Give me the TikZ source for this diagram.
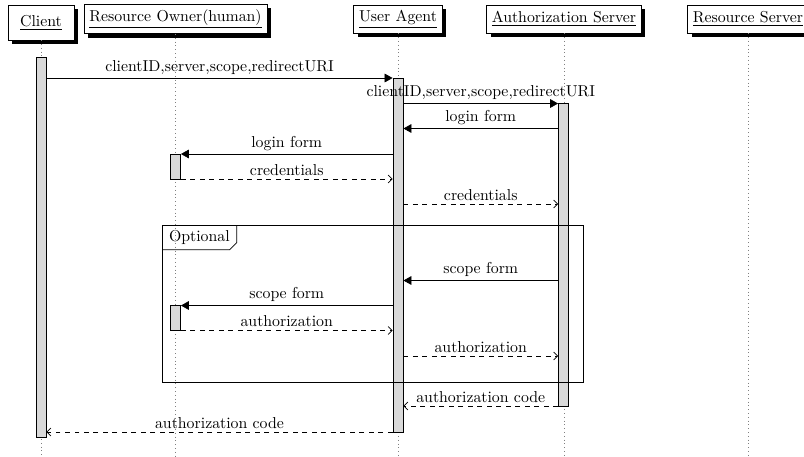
\documentclass[tikz,border=0pt]{standalone}
\usetikzlibrary{shadows,arrows.meta}
\begin{document}
\begin{tikzpicture}[x=0.632pt, y=-0.632pt,
  inst/.style={draw, fill=white, inner sep=3.33pt, align=center,
    drop shadow={shadow xshift=2.5pt, shadow yshift=-2.5pt, fill=black, opacity=1}},
  life/.style={dotted, gray},
  actbar/.style={draw, fill=gray!30, inner sep=0pt, minimum width=6.5pt},
  callmsg/.style={-{Triangle[length=5pt,width=5.5pt]}},
  retmsg/.style={dashed, -{Straight Barb[length=2.5pt,width=5pt]}},
  lbl/.style={midway, above, inner sep=2pt}]
\useasboundingbox (0,0) rectangle (804,456);
\coordinate (bottom) at (0,456);

% instances
\node[inst, minimum width=41.7pt, minimum height=22.1pt] (client) at (41,22.5) {\underline{Client}};
\node[inst, minimum height=17.7pt] (owner) at (175.5,19) {\underline{Resource Owner(human)}};
\node[inst, minimum height=17.7pt] (agent) at (398,19) {\underline{User Agent}};
\node[inst, minimum height=17.7pt] (auth) at (564,19) {\underline{Authorization Server}};
\node[inst, minimum height=17.7pt] (res) at (748,19) {\underline{Resource Server}};

% lifelines
\foreach \i in {client,owner,agent,auth,res}
  \draw[life] (\i.south) -- (\i.south |- bottom);

% activation bars
\node[actbar, minimum height=380*0.632pt] (cbar) at (41,247) {};
\node[actbar, minimum height=354*0.632pt] (abar) at (398,255) {};
\node[actbar, minimum height=302.5*0.632pt] (sbar) at (563.5,254.75) {};
\node[actbar, minimum height=25*0.632pt] (obar1) at (175.5,166.5) {};
\node[actbar, minimum height=25*0.632pt] (obar2) at (175.5,318) {};

% message levels
\coordinate (y1) at (0,78);
\coordinate (y2) at (0,103.5);
\coordinate (y3) at (0,128.5);
\coordinate (y4) at (0,154);
\coordinate (y5) at (0,179);
\coordinate (y6) at (0,204);
\coordinate (y7) at (0,280.5);
\coordinate (y8) at (0,305.5);
\coordinate (y9) at (0,330.5);
\coordinate (y10) at (0,356);
\coordinate (y11) at (0,406);
\coordinate (y12) at (0,432);

% messages
\draw[callmsg] (cbar.east |- y1) -- (abar.west |- y1) node[lbl] {clientID,server,scope,redirectURI};
\draw[callmsg] (abar.east |- y2) -- (sbar.west |- y2) node[lbl] {clientID,server,scope,redirectURI};
\draw[callmsg] (sbar.west |- y3) -- (abar.east |- y3) node[lbl] {login form};
\draw[callmsg] (abar.west |- y4) -- (obar1.east |- y4) node[lbl] {login form};
\draw[retmsg] (obar1.east |- y5) -- (abar.west |- y5) node[lbl] {credentials};
\draw[retmsg] (abar.east |- y6) -- (sbar.west |- y6) node[lbl] {credentials};
\draw[callmsg] (sbar.west |- y7) -- (abar.east |- y7) node[lbl] {scope form};
\draw[callmsg] (abar.west |- y8) -- (obar2.east |- y8) node[lbl] {scope form};
\draw[retmsg] (obar2.east |- y9) -- (abar.west |- y9) node[lbl] {authorization};
\draw[retmsg] (abar.east |- y10) -- (sbar.west |- y10) node[lbl] {authorization};
\draw[retmsg] (sbar.west |- y11) -- (abar.east |- y11) node[lbl] {authorization code};
\draw[retmsg] (abar.west |- y12) -- (cbar.east |- y12) node[lbl] {authorization code};

% optional block
\draw (162,225) rectangle (583,382);
\node[anchor=north west, inner sep=0pt, minimum width=46.8pt, minimum height=15.2pt] (opt) at (162,225) {Optional};
\draw (opt.north east) -- ([yshift=4.4pt]opt.south east) -- ([xshift=-4.4pt]opt.south east) -- (opt.south west);
\end{tikzpicture}
\end{document}
